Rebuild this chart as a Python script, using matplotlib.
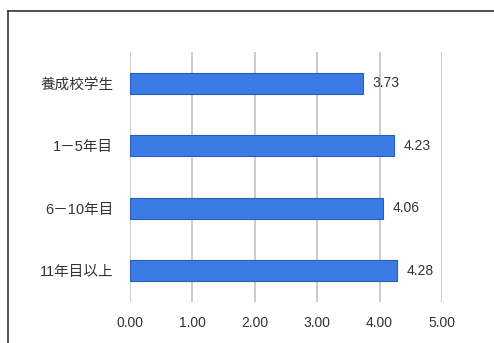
import matplotlib.pyplot as plt
from matplotlib.lines import Line2D

plt.rcParams['font.family'] = ['Liberation Sans', 'Noto Sans CJK JP']

# データ
categories = ['養成校学生', '1－5年目', '6－10年目', '11年目以上']
values = [3.73, 4.23, 4.06, 4.28]
x_ticks = [0, 1, 2, 3, 4, 5]

W, H = 494, 343
fig = plt.figure(figsize=(W / 100, H / 100), dpi=100)

# 外枠（上と左のみ見える）
top = 1 - 10.5 / H
left = 7.5 / W
fig.lines.append(Line2D([left, 1.0], [top, top], transform=fig.transFigure,
                        color='#333333', linewidth=1.2))
fig.lines.append(Line2D([left, left], [0, top], transform=fig.transFigure,
                        color='#333333', linewidth=1.2))

ax = fig.add_axes([130 / W, 1 - 302 / H, (442 - 130) / W, (302 - 52) / H])
y = list(range(len(categories)))
ax.barh(y, values, height=0.34, color='#3c7be6', edgecolor='#2a5cc0',
        linewidth=0.8, zorder=3)
for yi, v in zip(y, values):
    ax.text(v + 0.15, yi, f'{v:.2f}', va='center', ha='left',
            fontsize=10, color='#333333')

ax.set_xlim(0, 5)
ax.set_ylim(len(categories) - 0.5, -0.5)
ax.set_xticks(x_ticks)
ax.set_xticklabels([f'{t:.2f}' for t in x_ticks], fontsize=10, color='#333333')
ax.set_yticks(y)
ax.set_yticklabels(categories, fontsize=10.5, color='#333333')
ax.tick_params(length=0, pad=12)
ax.tick_params(axis='x', pad=10)
ax.grid(axis='x', color='#c4c4c4', linewidth=1.2, zorder=0)
for s in ax.spines.values():
    s.set_visible(False)

plt.savefig('out.png', dpi=100)
